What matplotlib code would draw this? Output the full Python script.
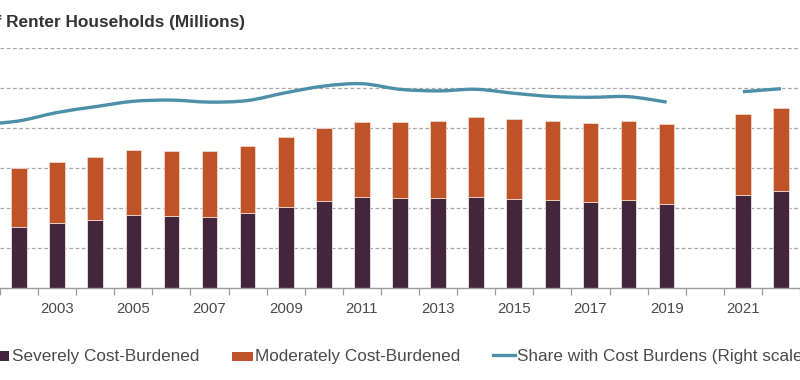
import numpy as np
import matplotlib
matplotlib.use("Agg")
import matplotlib.pyplot as plt
from matplotlib.path import Path
from matplotlib.patches import PathPatch, Rectangle
from matplotlib.lines import Line2D

plt.rcParams['font.family'] = ['Liberation Sans', 'DejaVu Sans']

years = [2001, 2002, 2003, 2004, 2005, 2006, 2007, 2008, 2009, 2010, 2011,
         2012, 2013, 2014, 2015, 2016, 2017, 2018, 2019, 2021, 2022]
severe = [7.5, 7.63, 8.12, 8.5, 9.04, 8.96, 8.83, 9.33, 10.08, 10.79, 11.33,
          11.25, 11.17, 11.38, 11.13, 10.96, 10.75, 10.92, 10.5, 11.58, 12.08]
total = [14.8, 15.0, 15.71, 16.29, 17.17, 17.08, 17.08, 17.71, 18.83, 19.96, 20.67,
         20.71, 20.83, 21.33, 21.08, 20.88, 20.58, 20.83, 20.46, 21.67, 22.42]
moderate = [t - s for t, s in zip(total, severe)]
share = [40.8, 41.7, 43.8, 45.25, 46.6, 46.9, 46.4, 46.8, 48.75, 50.4, 51.0,
         49.6, 49.2, 49.6, 48.6, 47.8, 47.6, 47.75, 46.4, 49.0, 49.75]
tick_years = [2003, 2005, 2007, 2009, 2011, 2013, 2015, 2017, 2019, 2021]

title = "Number of Renter Households (Millions)"
labels = ["Severely Cost-Burdened", "Moderately Cost-Burdened",
          "Share with Cost Burdens (Right scale)"]

C_SEV = '#43263b'
C_MOD = '#c05228'
C_LINE = '#4b8fa8'
C_GRID = '#a8a8a8'
C_TXT = '#4a4a4a'

W, H = 800, 380
fig = plt.figure(figsize=(8, 3.8), dpi=100)
ax = fig.add_axes([0, (H - 287.7) / H, 1, 240 / H])
ax.set_xlim(2001.566, 2022.346)
ax.set_ylim(0, 30)
for s in ['top', 'left', 'right']:
    ax.spines[s].set_visible(False)
ax.spines['bottom'].set_color('#9a9a9a')
ax.spines['bottom'].set_linewidth(1.0)

ax.set_yticks([5, 10, 15, 20, 25, 30])
ax.tick_params(axis='y', length=0, labelleft=False)
ax.yaxis.grid(True, color=C_GRID, linestyle=(0, (3, 2)), linewidth=0.9)
ax.set_axisbelow(True)

ax.bar(years, severe, width=0.41, color=C_SEV, edgecolor='#efe4e8', linewidth=0.6, zorder=2)
ax.bar(years, moderate, bottom=severe, width=0.41, color=C_MOD, edgecolor='#f2d6cc',
       linewidth=0.6, zorder=2)

ax.set_xticks(tick_years)
ax.set_xticklabels([str(y) for y in tick_years])
ax.set_xticks(np.arange(2001.5, 2023, 1.0), minor=True)
ax.tick_params(axis='x', which='major', length=0, pad=10, labelsize=10.8, labelcolor=C_TXT)
ax.tick_params(axis='x', which='minor', length=5, width=0.9, color='#9a9a9a', direction='out')

ax2 = ax.twinx()
ax2.set_ylim(0, 60)
ax2.axis('off')


def smooth_path(xs, ys):
    pts = list(zip(xs, ys))
    verts = [pts[0]]
    codes = [Path.MOVETO]
    n = len(pts)
    for i in range(n - 1):
        p0 = pts[i - 1] if i > 0 else pts[i]
        p1 = pts[i]
        p2 = pts[i + 1]
        p3 = pts[i + 2] if i + 2 < n else pts[i + 1]
        c1 = (p1[0] + (p2[0] - p0[0]) / 6, p1[1] + (p2[1] - p0[1]) / 6)
        c2 = (p2[0] - (p3[0] - p1[0]) / 6, p2[1] - (p3[1] - p1[1]) / 6)
        verts += [c1, c2, p2]
        codes += [Path.CURVE4] * 3
    return Path(verts, codes)


# split line at the missing 2020
seg1 = [(y, v) for y, v in zip(years, share) if y <= 2019]
seg2 = [(y, v) for y, v in zip(years, share) if y >= 2021]
for seg in (seg1, seg2):
    xs, ys = zip(*seg)
    ax2.add_patch(PathPatch(smooth_path(xs, ys), facecolor='none', edgecolor=C_LINE,
                            linewidth=2.4, capstyle='butt', zorder=3))

# title (cropped at left like the reference)
fig.text(245 / W, 1 - 27.3 / H, title, ha='right', va='baseline', fontsize=12.4,
         fontweight='bold', color='#333333')

# legend
ly = 1 - 356 / H
fig.patches.append(Rectangle((-2 / W, 1 - 361 / H), 11 / W, 10 / H, transform=fig.transFigure,
                             facecolor=C_SEV, edgecolor='none'))
fig.text(12 / W, ly, labels[0], ha='left', va='center', fontsize=12.3, color=C_TXT)
fig.patches.append(Rectangle((232 / W, 1 - 361 / H), 21 / W, 9 / H, transform=fig.transFigure,
                             facecolor=C_MOD, edgecolor='none'))
fig.text(255 / W, ly, labels[1], ha='left', va='center', fontsize=12.3, color=C_TXT)
fig.lines.append(Line2D([492.7 / W, 515 / W], [1 - 355 / H, 1 - 355 / H], transform=fig.transFigure,
                        color=C_LINE, linewidth=2.4))
fig.text(517 / W, ly, labels[2], ha='left', va='center', fontsize=12.3, color=C_TXT)

fig.savefig('out.png', dpi=100)
